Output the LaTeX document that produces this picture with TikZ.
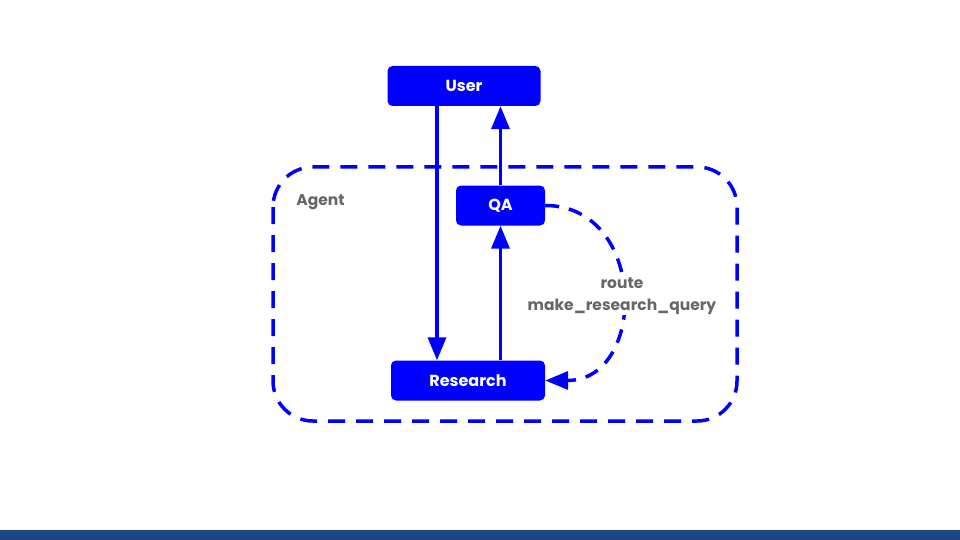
\documentclass[tikz,border=0pt]{standalone}
\usepackage{fontspec}
\setmainfont{Poppins}
\usetikzlibrary{arrows.meta}
\definecolor{boxblue}{HTML}{0000FF}
\definecolor{labelgray}{HTML}{666666}
\definecolor{barblue}{HTML}{1C4587}
\tikzset{
    agentbox/.style={rectangle, rounded corners=5pt, fill=boxblue, text=white, font=\fontsize{16}{20}\selectfont\bfseries, minimum height=40pt, inner sep=0pt},
    arr/.style={draw=boxblue, line width=3.5pt, -{Triangle[length=23pt,width=18pt]}},
    dasharr/.style={arr, dash pattern=on 14pt off 10pt},
    graylabel/.style={text=labelgray, font=\fontsize{15.5}{22}\selectfont\bfseries}
}
\begin{document}
\begin{tikzpicture}[x=1pt,y=-1pt]
        \useasboundingbox (0,0) rectangle (960,540);
        \fill[barblue] (0,529.5) rectangle (960,540);
        \draw[boxblue, line width=3.5pt, rounded corners=40pt, dash pattern=on 17pt off 11pt] (273,167) rectangle (737,421);
        \node[graylabel] (agentlabel) at (320.5,202.5) {Agent};
        
        \node[agentbox, minimum width=153pt] (User) at (464,86) {User};
        \node[agentbox, minimum width=89pt] (QA) at (500.5,205.5) {QA};
        \node[agentbox, minimum width=154pt] (Research) at (468,380.5) {Research};
        
        \draw[arr] ([xshift=-27pt]User.south) -- ([xshift=-31pt]Research.north);
        \draw[arr] (Research.north -| QA) -- (QA.south);
        \draw[arr] (QA.north) -- (QA.north |- User.south);
        \draw[dasharr] (QA.east) to[out=0, in=0, looseness=1.5]
            node[graylabel, fill=white, align=center, inner sep=1pt, yshift=-3pt] (routelabel) {route\\make\_research\_query} (Research.east);
    \end{tikzpicture}
\end{document}
